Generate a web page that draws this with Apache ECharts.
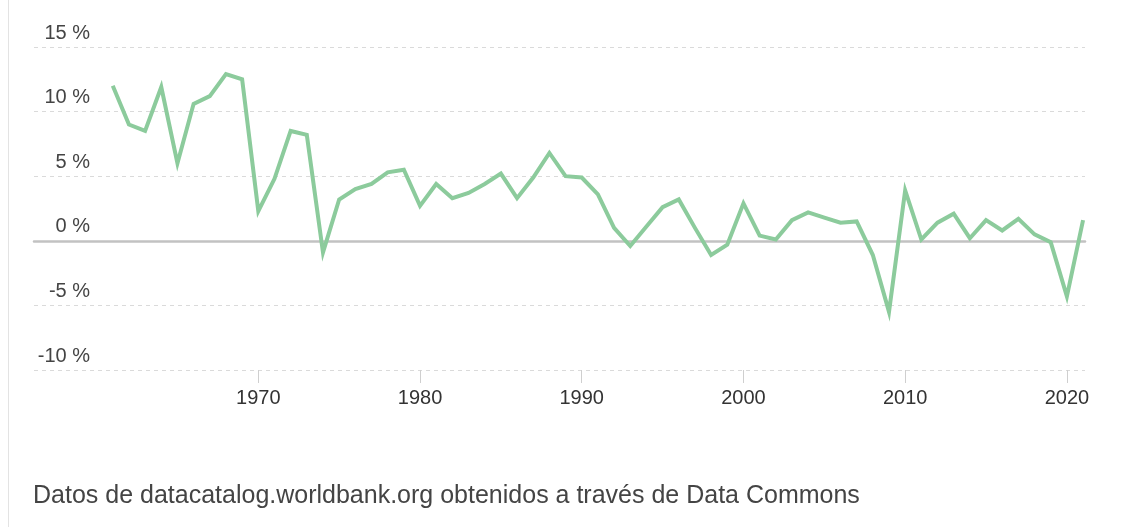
<!DOCTYPE html>
<html>
<head>
<meta charset="utf-8">
<script src="https://cdn.jsdelivr.net/npm/echarts@6/dist/echarts.min.js"></script>
<style>
  html, body { margin: 0; padding: 0; background: #fff; }
  #wrap { position: relative; width: 1121px; height: 527px; }
  #border { position: absolute; left: 8px; top: 0; width: 1px; height: 527px; background: #e3e3e3; }
  #chart { position: absolute; left: 0; top: 0; width: 1121px; height: 527px; }
</style>
</head>
<body>
<div id="wrap">
  <div id="border"></div>
  <div id="chart"></div>
</div>
<script>
const years = [1961,1962,1963,1964,1965,1966,1967,1968,1969,1970,
  1971,1972,1973,1974,1975,1976,1977,1978,1979,1980,
  1981,1982,1983,1984,1985,1986,1987,1988,1989,1990,
  1991,1992,1993,1994,1995,1996,1997,1998,1999,2000,
  2001,2002,2003,2004,2005,2006,2007,2008,2009,2010,
  2011,2012,2013,2014,2015,2016,2017,2018,2019,2020,2021];
const growth = [12.0,9.0,8.5,11.9,6.0,10.6,11.2,12.9,12.5,2.3,
  4.8,8.5,8.2,-0.9,3.2,4.0,4.4,5.3,5.5,2.7,
  4.4,3.3,3.7,4.4,5.2,3.3,4.9,6.8,5.0,4.9,
  3.6,1.0,-0.4,1.1,2.6,3.2,1.0,-1.1,-0.3,2.9,
  0.4,0.1,1.6,2.2,1.8,1.4,1.5,-1.1,-5.5,3.9,
  0.1,1.4,2.1,0.2,1.6,0.8,1.7,0.5,-0.1,-4.3,1.6];
const xTicks = [1970,1980,1990,2000,2010,2020];
const yMin = -10, yMax = 15, yStep = 5;
const sourceText = 'Datos de datacatalog.worldbank.org obtenidos a través de Data Commons';

const FONT = '"Liberation Sans", Arial, sans-serif';
const chart = echarts.init(document.getElementById('chart'), null, { renderer: 'canvas' });
const xMin = 1956.13, xMax = 2021.12;
chart.setOption({
  animation: false,
  grid: { left: 34, right: 36, top: 47, bottom: 157 },
  xAxis: [
    {
      type: 'value', min: xMin, max: xMax, position: 'bottom',
      axisLine: { show: true, onZero: true, lineStyle: { color: '#c2c2c2', width: 2.5 } },
      axisTick: { show: false }, axisLabel: { show: false }, splitLine: { show: false }
    },
    {
      type: 'value', min: xMin, max: xMax, position: 'bottom',
      axisLine: { show: false, onZero: false },
      axisTick: { show: true, length: 13, customValues: xTicks, lineStyle: { color: '#cfcfcf', width: 1 } },
      axisLabel: { show: true, customValues: xTicks, margin: 18, fontSize: 20, color: '#333',
        fontFamily: FONT, formatter: v => String(v) },
      splitLine: { show: false }
    }
  ],
  yAxis: {
    type: 'value', min: yMin, max: yMax, interval: yStep,
    axisLine: { show: false }, axisTick: { show: false },
    axisLabel: { margin: -56, fontSize: 20, color: '#444', fontFamily: FONT,
      verticalAlign: 'bottom', padding: [0, 0, 4, 0], formatter: '{value} %' },
    splitLine: { show: true, lineStyle: { color: '#dadada', type: [4, 4], width: 1 } }
  },
  series: [{
    type: 'line', xAxisIndex: 0,
    data: years.map((y, i) => [y, growth[i]]),
    showSymbol: false, symbol: 'none',
    lineStyle: { color: '#8ccb9c', width: 4, join: 'miter' },
    z: 5
  }],
  graphic: [{
    type: 'text', left: 33, top: 484,
    style: { text: sourceText, font: '25px ' + FONT, fill: '#444' }
  }]
});
</script>
</body>
</html>
